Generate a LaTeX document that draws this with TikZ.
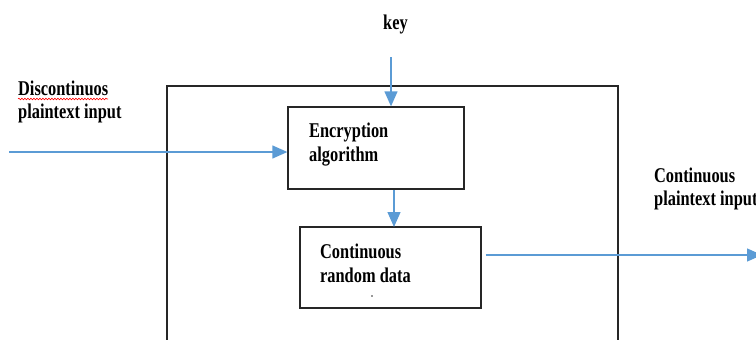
\documentclass[tikz,border=0pt]{standalone}
\usepackage{fontspec}
\setmainfont{Liberation Serif}
\usetikzlibrary{arrows.meta,decorations.pathmorphing}
\definecolor{flowblue}{RGB}{91,155,213}
\tikzset{
  box/.style={draw=black!85, line width=1.3pt, minimum width=#1, inner sep=0pt},
  lbl/.style={anchor=base west, inner sep=0pt, xscale=0.78,
    font=\fontsize{21}{23}\selectfont\bfseries},
  flow/.style={draw=flowblue, line width=1.3pt,
    -{Triangle[length=15pt,width=13pt]}},
}
\begin{document}
\begin{tikzpicture}[x=1pt,y=-1pt]
  \useasboundingbox (0,0) rectangle (756,340);
  \clip (0,0) rectangle (756,340);

  % outer enclosure (runs past the lower edge)
  \draw[black!85, line width=1.3pt] (167,360) -- (167,86) -- (618,86) -- (618,360);

  % processing blocks
  \node[box, minimum width=176pt, minimum height=82pt] (enc) at (376,148) {};
  \node[box, minimum width=181pt, minimum height=81pt] (crd) at (390.5,267.5) {};

  % labels
  \node[lbl] (key) at (383,29) {key};
  \node[lbl] (disc) at (18,95) {Discontinuos};
  \node[lbl] (dpi) at (18,118) {plaintext input};
  \node[lbl] (enct1) at (309,137) {Encryption};
  \node[lbl] (enct2) at (309,161) {algorithm};
  \node[lbl] (crdt1) at (320,258) {Continuous};
  \node[lbl] (crdt2) at (320,282) {random data};
  \node[inner sep=0pt, fill=black!40, minimum size=1.5pt] (dot) at (372,296) {};
  \node[lbl] (cont1) at (654,182) {Continuous};
  \node[lbl] (cont2) at (654,205) {plaintext input};

  % spelling mark under the first label
  \draw[red, line width=0.6pt, decorate,
        decoration={snake, amplitude=0.8pt, segment length=3pt}]
    (18,99) -- (108,99);

  % connectors
  \coordinate (keyin) at (391,57);
  \coordinate (ptin) at (9,152);
  \coordinate (ptout) at (762,255);
  \draw[flow] (keyin) -- (keyin |- enc.north);
  \draw[flow] (ptin) -- (ptin -| enc.west);
  \draw[flow] (394,190) -- (394,227);
  \draw[flow] ([xshift=4pt]crd.east |- ptout) -- (ptout);
\end{tikzpicture}
\end{document}
